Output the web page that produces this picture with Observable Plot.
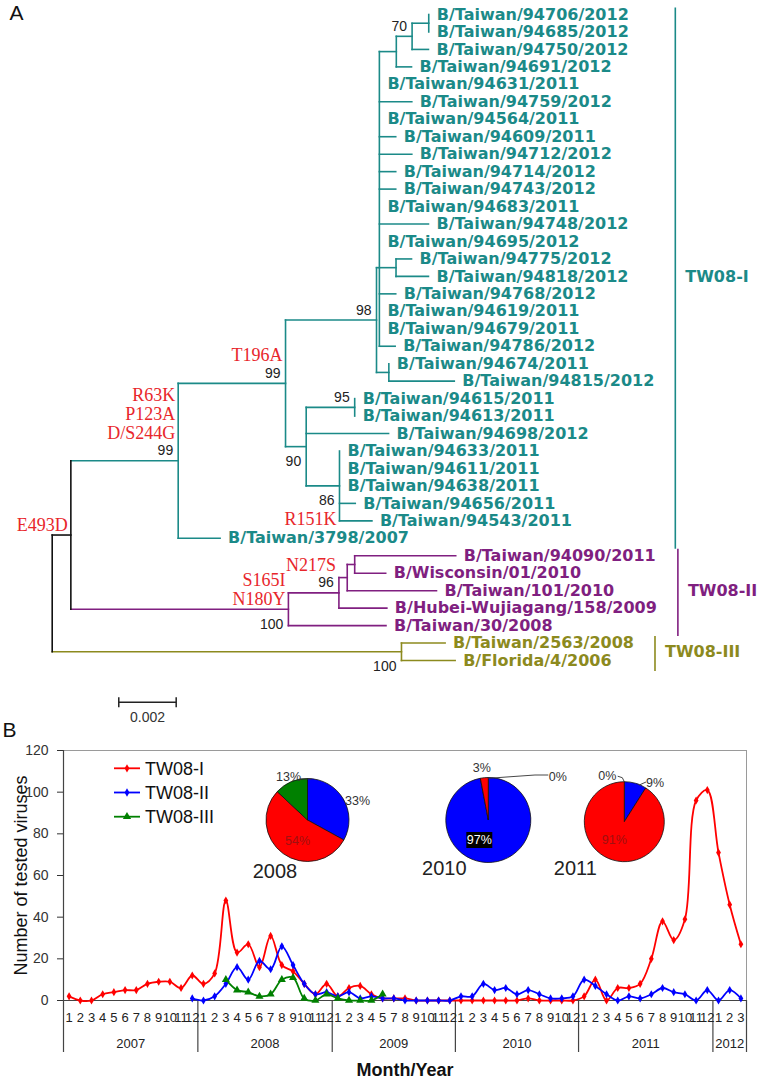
<!DOCTYPE html>
<html><head><meta charset="utf-8">
<script src="https://cdn.jsdelivr.net/npm/d3@7"></script>
<script src="https://cdn.jsdelivr.net/npm/@observablehq/plot@0.6"></script>
<style>
body{margin:0;background:#fff;}
#fig{width:759px;}
#fig svg{display:block;}
</style></head><body><div id="fig"></div>
<script>
// ================= DATA: Panel A (phylogenetic tree) =================
// [node, parent, branch length (substitutions/site)] ; tips listed in display order
const treeEdges = [
  ["A", "root", 0.00065],
  ["B", "A", 0.00374],
  ["C", "B", 0.00374],
  ["D", "C", 0.00317],
  ["H", "D", 0.00010],
  ["J", "H", 0.00059],
  ["K", "J", 0.00055],
  ["L", "K", 0.00058],
  ["B/Taiwan/94706/2012", "L", 0],
  ["B/Taiwan/94685/2012", "L", 0],
  ["B/Taiwan/94750/2012", "K", 0.00057],
  ["B/Taiwan/94691/2012", "J", 0.00053],
  ["B/Taiwan/94631/2011", "H", 0],
  ["B/Taiwan/94759/2012", "H", 0.00113],
  ["B/Taiwan/94564/2011", "H", 0],
  ["B/Taiwan/94609/2011", "H", 0.00057],
  ["B/Taiwan/94712/2012", "H", 0.00113],
  ["B/Taiwan/94714/2012", "H", 0.00057],
  ["B/Taiwan/94743/2012", "H", 0.00057],
  ["B/Taiwan/94683/2011", "H", 0],
  ["B/Taiwan/94748/2012", "H", 0.00171],
  ["B/Taiwan/94695/2012", "H", 0],
  ["M", "H", 0.00058],
  ["B/Taiwan/94775/2012", "M", 0.00054],
  ["B/Taiwan/94818/2012", "M", 0.00113],
  ["B/Taiwan/94768/2012", "H", 0.00057],
  ["B/Taiwan/94619/2011", "H", 0],
  ["B/Taiwan/94679/2011", "H", 0],
  ["B/Taiwan/94786/2012", "H", 0.00055],
  ["I", "D", 0.00043],
  ["B/Taiwan/94674/2011", "I", 0],
  ["B/Taiwan/94815/2012", "I", 0.00228],
  ["E", "C", 0.00072],
  ["F", "E", 0.00169],
  ["B/Taiwan/94615/2011", "F", 0],
  ["B/Taiwan/94613/2011", "F", 0],
  ["B/Taiwan/94698/2012", "E", 0.00287],
  ["G", "E", 0.00116],
  ["B/Taiwan/94633/2011", "G", 0],
  ["B/Taiwan/94611/2011", "G", 0],
  ["B/Taiwan/94638/2011", "G", 0],
  ["B/Taiwan/94656/2011", "G", 0.00055],
  ["B/Taiwan/94543/2011", "G", 0.00113],
  ["B/Taiwan/3798/2007", "B", 0.00146],
  ["P", "A", 0.00758],
  ["Q", "P", 0.00176],
  ["R", "Q", 0.00029],
  ["S", "R", 0.00026],
  ["B/Taiwan/94090/2011", "S", 0.00352],
  ["B/Wisconsin/01/2010", "S", 0.00108],
  ["B/Taiwan/101/2010", "R", 0.00311],
  ["B/Hubei-Wujiagang/158/2009", "Q", 0.00167],
  ["B/Taiwan/30/2008", "P", 0.00340],
  ["O", "root", 0.01217],
  ["B/Taiwan/2563/2008", "O", 0.00152],
  ["B/Florida/4/2006", "O", 0.00187]
];
// node drawn at the level of one of its descendants (as in the figure)
const levelOverride = {H: "M"};
// clades: [label, clade root node]
const clades = [["TW08-I", "B"], ["TW08-II", "P"], ["TW08-III", "O"]];
// bootstrap values: [node, value, side]
const bootstraps = [
  ["K", "70", "above"], ["D", "98", "above"], ["C", "99", "above"], ["B", "99", "above"],
  ["F", "95", "above"], ["E", "90", "below"], ["G", "86", "below"], ["Q", "96", "above"],
  ["P", "100", "below"], ["O", "100", "below"]
];
// amino-acid substitutions: [node, label, side] (listed top to bottom)
const mutations = [
  ["A", "E493D", "above"],
  ["B", "R63K", "above"], ["B", "P123A", "above"], ["B", "D/S244G", "above"],
  ["C", "T196A", "above"],
  ["G", "R151K", "below"],
  ["Q", "N217S", "above"],
  ["P", "S165I", "above"], ["P", "N180Y", "above"]
];
const scaleBarLength = 0.002;

// ================= DATA: Panel B (monthly counts) =================
const years = [2007, 2008, 2009, 2010, 2011, 2012];
const monthsByYear = [
  [1,2,3,4,5,6,7,8,9,10,11,12],
  [1,2,3,4,5,6,7,8,9,10,11,12],
  [1,2,3,4,5,7,8,9,10,11,12],
  [1,2,3,4,5,6,7,8,9,10,12],
  [1,2,3,4,5,6,7,8,9,10,11,12],
  [1,2,3]
];
const seriesNames = ["TW08-I", "TW08-II", "TW08-III"];
const tw08I = [
  2,0,0,3,4,5,5,8,9,9,6,12,
  8,13,48,23,27,16,31,17,14,8,3,8,
  2,6,7,3,1,1,1,0,0,0,0,
  0,0,0,0,0,0,1,0,0,0,0,
  2,10,0,6,6,8,20,38,29,39,96,101,
  71,46,27
];
const tw08II = [
  null,null,null,null,null,null,null,null,null,null,null,1,
  0,2,8,16,10,19,15,26,17,8,3,4,
  2,4,1,2,1,1,0,0,0,0,0,
  2,2,8,5,6,3,5,3,1,1,2,
  10,7,3,0,2,1,3,6,4,3,0,5,
  0,5,1
];
const tw08III = [
  null,null,null,null,null,null,null,null,null,null,null,null,
  null,null,10,5,4,2,3,10,11,1,0,3,
  1,0,0,0,3,null,null,null,null,null,null,
  null,null,null,null,null,null,null,null,null,null,null,
  null,null,null,null,null,null,null,null,null,null,null,null,
  null,null,null
];
const pieYears = [2008, 2010, 2011];
const pieI = [54, 3, 91];
const pieII = [33, 97, 9];
const pieIII = [13, 0, 0];

// ================= STYLE / LAYOUT =================
const W = 759, HA = 740, HB = 341;
const rootPx = 51.7, pxPerUnit = 28700, rowTopPx = 14, rowPx = 17.46;
const cladeColor = {"TW08-I": "#1b8a88", "TW08-II": "#801f80", "TW08-III": "#8c8a1e"};
const seriesColor = {"TW08-I": "#ff0000", "TW08-II": "#0000ff", "TW08-III": "#008000"};
const mutColor = "#e8262b";

// ---------- tree layout ----------
const nodeMap = new Map([["root", {id: "root", parent: null, len: 0, children: []}]]);
for (const [id, parent, len] of treeEdges) nodeMap.set(id, {id, parent, len, children: []});
for (const [id, parent] of treeEdges) nodeMap.get(parent).children.push(nodeMap.get(id));
const root = nodeMap.get("root");
const tipNodes = treeEdges.map(e => nodeMap.get(e[0])).filter(n => n.children.length === 0);
tipNodes.forEach((n, i) => n.row = i);
(function setX(n, x) { n.x = x; n.children.forEach(c => setX(c, x + c.len)); })(root, 0);
(function setY(n) {
  if (!n.children.length) return (n.y = n.row);
  const ys = n.children.map(setY);
  n.lo = d3.min(ys); n.hi = d3.max(ys);
  n.y = levelOverride[n.id] ? nodeMap.get(levelOverride[n.id]).y : (n.lo + n.hi) / 2;
  return n.y;
})(root);
const cladeRootOf = new Map(clades.map(([name, id]) => [id, name]));
for (const n of nodeMap.values()) {
  let m = n, c = null;
  while (m) { if (cladeRootOf.has(m.id)) { c = cladeRootOf.get(m.id); break; } m = m.parent ? nodeMap.get(m.parent) : null; }
  n.clade = c;
  n.color = c ? cladeColor[c] : "#111";
}
const hLinks = [...nodeMap.values()].filter(n => n.parent && n.len > 0)
  .map(n => ({x1: nodeMap.get(n.parent).x, x2: n.x, y: n.y, color: n.color}));
const vLinks = [...nodeMap.values()].filter(n => n.children.length)
  .map(n => ({x: n.x, y1: n.lo, y2: n.hi, color: n.color}));

// annotations stacked around nodes
const annot = [];
{
  const groups = d3.group([...bootstraps.map(b => ({node: b[0], text: b[1], side: b[2], kind: "boot"})),
                           ...mutations.map(m => ({node: m[0], text: m[1], side: m[2], kind: "mut"}))],
                          d => d.node, d => d.side);
  for (const [nodeId, sides] of groups) {
    const n = nodeMap.get(nodeId);
    for (const [side, items] of sides) {
      const boots = items.filter(d => d.kind === "boot");
      const muts = items.filter(d => d.kind === "mut");
      if (side === "above") {
        let off = -10;
        if (boots.length) { annot.push({...boots[0], x: n.x, y: n.y + off / rowPx}); off = -28; }
        for (let k = muts.length - 1; k >= 0; k--) { annot.push({...muts[k], x: n.x, y: n.y + off / rowPx}); off -= 18.7; }
      } else {
        let off = 15;
        if (boots.length) { annot.push({...boots[0], x: n.x, y: n.y + off / rowPx}); off = 33; }
        for (const m of muts) { annot.push({...m, x: n.x, y: n.y + off / rowPx}); off += 18.7; }
      }
    }
  }
}

// clade bars
const ctx = document.createElement("canvas").getContext("2d");
ctx.font = "bold 16px 'DejaVu Sans'";
const cladeBars = clades.map(([name, id]) => {
  const tips = tipNodes.filter(t => t.clade === name);
  const endPx = d3.max(tips, t => rootPx + t.x * pxPerUnit + 8 + ctx.measureText(t.id).width);
  const barPx = endPx + 21;
  const first = d3.min(tips, t => t.row), last = d3.max(tips, t => t.row);
  return {name, x: (barPx - rootPx) / pxPerUnit, y1: first - 0.4, y2: last + 0.6, ymid: (first + last) / 2, color: cladeColor[name]};
});

const sbRow = tipNodes.length + 1.39, sbStart = 0.00232;
const scaleBar = [{x1: sbStart, x2: sbStart + scaleBarLength, y1: sbRow, y2: sbRow}];
const scaleTicks = [sbStart, sbStart + scaleBarLength].map(x => ({x, y1: sbRow - 0.29, y2: sbRow + 0.29}));

const figA = Plot.plot({
  width: W, height: HA, margin: 0,
  x: {domain: [-rootPx / pxPerUnit, (W - rootPx) / pxPerUnit], axis: null},
  y: {domain: [(HA - rowTopPx) / rowPx, -rowTopPx / rowPx], axis: null},
  color: {type: "identity"},
  style: {background: "#fff", fontFamily: "'Liberation Sans', Arial, sans-serif"},
  marks: [
    Plot.link(hLinks, {x1: "x1", x2: "x2", y1: "y", y2: "y", stroke: "color", strokeWidth: 1.6, strokeLinecap: "square"}),
    Plot.link(vLinks, {x1: "x", x2: "x", y1: "y1", y2: "y2", stroke: "color", strokeWidth: 1.6, strokeLinecap: "square"}),
    Plot.text(tipNodes, {x: "x", y: "y", text: "id", dx: 8, textAnchor: "start", fill: "color",
      fontSize: 16, fontWeight: "bold", fontFamily: "DejaVu Sans"}),
    Plot.text(annot.filter(d => d.kind === "boot"), {x: "x", y: "y", text: "text", dx: -5, textAnchor: "end",
      fill: "#222", fontSize: 14, fontFamily: "Liberation Sans"}),
    Plot.text(annot.filter(d => d.kind === "mut"), {x: "x", y: "y", text: "text", dx: -3, textAnchor: "end",
      fill: mutColor, fontSize: 18, fontFamily: "Liberation Serif"}),
    Plot.link(cladeBars, {x1: "x", x2: "x", y1: "y1", y2: "y2", stroke: "color", strokeWidth: 1.6}),
    Plot.text(cladeBars, {x: "x", y: "ymid", text: "name", dx: 10, textAnchor: "start", fill: "color",
      fontSize: 16, fontWeight: "bold", fontFamily: "DejaVu Sans"}),
    Plot.link(scaleBar, {x1: "x1", x2: "x2", y1: "y1", y2: "y2", stroke: "#222", strokeWidth: 1.5}),
    Plot.link(scaleTicks, {x1: "x", x2: "x", y1: "y1", y2: "y2", stroke: "#222", strokeWidth: 1.5}),
    Plot.text(scaleBar, {x: d => (d.x1 + d.x2) / 2, y: d => d.y1 + 15.6 / rowPx, text: () => String(scaleBarLength),
      fill: "#333", fontSize: 14, fontFamily: "Liberation Sans"}),
    Plot.text(["A"], {frameAnchor: "top-left", text: d => d, dx: 9, dy: 12.5, textAnchor: "start", lineAnchor: "middle",
      fontSize: 21, fill: "#111", fontFamily: "Liberation Sans"})
  ]
});

// ---------- panel B ----------
const cats = [];
years.forEach((yr, k) => monthsByYear[k].forEach(m => cats.push({i: cats.length, year: yr, month: m})));
const seriesVals = [tw08I, tw08II, tw08III];
const rowsB = [];
seriesNames.forEach((s, k) => seriesVals[k].forEach((v, i) => rowsB.push({series: s, i, v, color: seriesColor[s]})));
const yearSpans = [];
{ let start = 0; years.forEach((yr, k) => { const n = monthsByYear[k].length; yearSpans.push({year: String(yr), a: start - 0.5, b: start + n - 0.5, mid: start + (n - 1) / 2}); start += n; }); }
const boundaries = [yearSpans[0].a, ...yearSpans.map(d => d.b)];

const FL = 63, FR = 13, FT = 10, FB = 81;
const yMax = 120, plotHpx = HB - FT - FB;
const pxToY = px => px * yMax / plotHpx;

function legendMark() {
  const g = d3.create("svg:g").attr("text-anchor", "start");
  const syms = [d3.symbolDiamond, d3.symbolDiamond, d3.symbolTriangle];
  seriesNames.forEach((s, k) => {
    const y = FT + 18.3 + k * 24.2;
    g.append("line").attr("x1", FL + 51).attr("x2", FL + 77).attr("y1", y).attr("y2", y)
      .attr("stroke", seriesColor[s]).attr("stroke-width", 1.8);
    g.append("path").attr("d", d3.symbol(syms[k], k === 2 ? 30 : 20)()).attr("transform", `translate(${FL + 64},${y})`)
      .attr("fill", seriesColor[s]);
    g.append("text").attr("x", FL + 82).attr("y", y).attr("dy", "0.35em").attr("font-size", 18)
      .attr("text-anchor", "start").attr("fill", "#111").text(s);
  });
  return g.node();
}

function pieMark() {
  const g = d3.create("svg:g");
  const lay = [
    {cx: FL + 244.5, cy: FT + 70, r: 41.5, yl: [-32.5, 50.7],
     labels: [["33%", 50, -19, "#333"], ["54%", -10, 21, "#a01010"], ["13%", -19, -43, "#333"]],
     leaders: [[[-8, -41], [4, -41]]]},
    {cx: FL + 425.3, cy: FT + 70, r: 42.5, yl: [-44, 48.3],
     labels: [["3%", -6.6, -52.3, "#333"], ["0%", 69.5, -43.3, "#333"], ["97%", -9, 20, "#fff", true]],
     leaders: [[[0, -41.7], [46.7, -45], [60, -45]]]},
    {cx: FL + 561.3, cy: FT + 71.7, r: 40, yl: [-49, 46.6],
     labels: [["0%", -17, -45.7, "#333"], ["9%", 30.7, -39, "#333"], ["91%", -10, 18.3, "#a01010"]],
     leaders: [[[-6.6, -45.5], [-2, -44], [0, -40]], [[15, -36.7], [21.7, -39.7]]]}
  ];
  const pie = d3.pie().sort(null).value(d => d.v);
  pieYears.forEach((yr, k) => {
    const L = lay[k];
    const gg = g.append("g").attr("transform", `translate(${L.cx},${L.cy})`);
    const vals = [{s: "TW08-II", v: pieII[k]}, {s: "TW08-I", v: pieI[k]}, {s: "TW08-III", v: pieIII[k]}];
    const arc = d3.arc().innerRadius(0).outerRadius(L.r);
    gg.selectAll("path.s").data(pie(vals).filter(d => d.data.v > 0)).join("path")
      .attr("d", arc).attr("fill", d => seriesColor[d.data.s]).attr("stroke", "#111").attr("stroke-width", 0.8);
    for (const ld of L.leaders) gg.append("path").attr("d", d3.line()(ld)).attr("fill", "none").attr("stroke", "#333").attr("stroke-width", 0.9);
    for (const [t, dx, dy, col, boxed] of L.labels) {
      if (boxed) gg.append("rect").attr("x", dx - 13).attr("y", dy - 8).attr("width", 26).attr("height", 16).attr("fill", "#000");
      gg.append("text").attr("x", dx).attr("y", dy).attr("dy", "0.35em").attr("text-anchor", "middle")
        .attr("font-size", 12.5).attr("fill", col).text(t);
    }
    gg.append("text").attr("x", L.yl[0]).attr("y", L.yl[1]).attr("dy", "0.35em").attr("text-anchor", "middle")
      .attr("font-size", 20).attr("fill", "#222").text(String(yr));
  });
  return g.node();
}

const markerOpts = (s, symbol, r) => ({x: "i", y: "v", fill: seriesColor[s], symbol, r});
const figB = Plot.plot({
  width: W, height: HB, marginLeft: FL, marginRight: FR, marginTop: FT, marginBottom: FB,
  x: {domain: [-0.5, cats.length - 0.5], axis: null},
  y: {domain: [0, yMax], ticks: 6, tickSize: 6, tickPadding: 9, label: null, line: false},
  color: {type: "identity"},
  style: {background: "transparent", fontFamily: "'Liberation Sans', Arial, sans-serif", fontSize: "14px", color: "#333", overflow: "visible"},
  marks: [
    Plot.frame({stroke: "#9a9a9a"}),
    Plot.ruleY([0], {stroke: "#444", strokeWidth: 1.2}),
    Plot.ruleX(boundaries, {y1: 0, y2: -pxToY(52), stroke: "#444", strokeWidth: 1.2}),
    Plot.ruleX([boundaries[0]], {y1: 0, y2: yMax, stroke: "#444", strokeWidth: 1.2}),
    Plot.text(cats, {x: "i", y: 0, text: d => String(d.month), dy: 17, fontSize: 13, fill: "#222"}),
    Plot.text(yearSpans, {x: "mid", y: 0, text: "year", dy: 43, fontSize: 13, fill: "#222"}),
    Plot.text(["Month/Year"], {frameAnchor: "bottom", text: d => d, dy: 70, textAnchor: "middle", lineAnchor: "middle", fontWeight: "bold", fontSize: 18, fill: "#111"}),
    Plot.text(["Number of tested viruses"], {frameAnchor: "left", text: d => d, rotate: -90, dx: -42, textAnchor: "middle", lineAnchor: "middle", fontSize: 18, fill: "#111"}),
    Plot.text(["B"], {frameAnchor: "top-left", text: d => d, dx: -61, dy: -20, textAnchor: "start", lineAnchor: "middle", fontSize: 21, fill: "#111"}),
    Plot.line(rowsB, {x: "i", y: "v", z: "series", stroke: "color", strokeWidth: 1.8, curve: "catmull-rom"}),
    Plot.dot(rowsB.filter(d => d.series === "TW08-I" && d.v != null), markerOpts("TW08-I", "diamond", 2.5)),
    Plot.dot(rowsB.filter(d => d.series === "TW08-II" && d.v != null), markerOpts("TW08-II", "diamond", 2.5)),
    Plot.dot(rowsB.filter(d => d.series === "TW08-III" && d.v != null), markerOpts("TW08-III", "triangle", 3)),
    legendMark,
    pieMark
  ]
});

document.getElementById("fig").append(figA, figB);
</script>
</body></html>
